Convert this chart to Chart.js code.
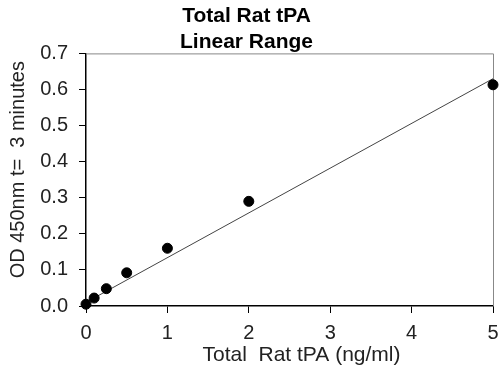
<!DOCTYPE html>
<html>
<head>
<meta charset="utf-8">
<script src="https://cdn.jsdelivr.net/npm/chart.js@4"></script>
<style>
  body { margin: 0; background: #fff; }
</style>
</head>
<body>
<canvas id="chart" width="499" height="370"></canvas>
<script>
// concentration (ng/ml) and OD readings
const concentrations = [0, 0.1, 0.25, 0.5, 1, 2, 5];
const odValues = [0.005, 0.022, 0.048, 0.092, 0.16, 0.29, 0.613];
// trendline end points
const trendX = [0, 5];
const trendY = [0.01, 0.63];

const xTitle = 'Total  Rat tPA (ng/ml)';
const yTitle = 'OD 450nm t=  3 minutes';

const fontFamily = "'Liberation Sans', Arial, sans-serif";

// grey box round the plot area and the axis titles, placed like the original
const extrasPlugin = {
    id: 'extras',
    beforeDatasetsDraw(chart) {
        const a = chart.chartArea;
        const ctx = chart.ctx;
        ctx.save();
        ctx.strokeStyle = '#888';
        ctx.lineWidth = 1;
        ctx.beginPath();
        ctx.moveTo(a.left, a.top + 0.5);
        ctx.lineTo(a.right + 0.5, a.top + 0.5);
        ctx.lineTo(a.right + 0.5, a.bottom);
        ctx.stroke();
        ctx.restore();
    },
    afterDraw(chart) {
        const a = chart.chartArea;
        const ctx = chart.ctx;
        ctx.save();
        ctx.fillStyle = '#222';
        ctx.textAlign = 'center';
        ctx.textBaseline = 'middle';
        ctx.font = '21px ' + fontFamily;
        ctx.fillText(xTitle, (a.left + a.right) / 2 + 12, 355);
        ctx.font = '20px ' + fontFamily;
        ctx.translate(18, (a.top + a.bottom) / 2 - 10);
        ctx.rotate(-Math.PI / 2);
        ctx.fillText(yTitle, 0, 0);
        ctx.restore();
    }
};

new Chart(document.getElementById('chart').getContext('2d'), {
    type: 'scatter',
    data: {
        datasets: [{
            data: concentrations.map((x, i) => ({ x: x, y: odValues[i] })),
            backgroundColor: '#000',
            borderColor: '#000',
            pointRadius: 5,
            pointHoverRadius: 5,
            clip: false
        }, {
            type: 'line',
            data: trendX.map((x, i) => ({ x: x, y: trendY[i] })),
            borderColor: '#444',
            borderWidth: 1,
            pointRadius: 0,
            fill: false
        }]
    },
    options: {
        responsive: false,
        animation: false,
        layout: {
            padding: { left: 0, right: 6, top: 0, bottom: 0 }
        },
        plugins: {
            legend: { display: false },
            tooltip: { enabled: false },
            title: {
                display: true,
                text: ['Total Rat tPA', 'Linear Range'],
                color: '#000',
                font: { family: fontFamily, size: 21, weight: 'bold', lineHeight: 1.2 },
                padding: { top: 4, bottom: -1 }
            }
        },
        scales: {
            x: {
                type: 'linear',
                min: 0,
                max: 5,
                ticks: {
                    stepSize: 1,
                    color: '#222',
                    padding: 8,
                    font: { family: fontFamily, size: 20 }
                },
                grid: {
                    drawOnChartArea: false,
                    tickLength: 7,
                    color: '#000'
                },
                border: { color: '#000', width: 1.5 },
                afterFit(scale) {
                    scale.height = 370 - 306;
                    scale.paddingLeft = 0;
                    scale.paddingRight = 0;
                }
            },
            y: {
                min: 0,
                max: 0.7,
                ticks: {
                    stepSize: 0.1,
                    color: '#222',
                    padding: 11,
                    font: { family: fontFamily, size: 20 },
                    callback: v => v.toFixed(1)
                },
                grid: {
                    drawOnChartArea: false,
                    tickLength: 7,
                    color: '#000'
                },
                border: { color: '#000', width: 1.5 },
                afterFit(scale) {
                    scale.width = 86;
                    scale.paddingTop = 0;
                    scale.paddingBottom = 0;
                }
            }
        }
    },
    plugins: [extrasPlugin]
});
</script>
</body>
</html>
